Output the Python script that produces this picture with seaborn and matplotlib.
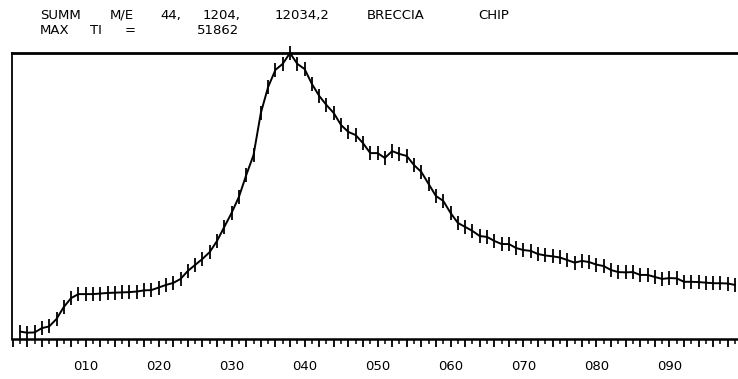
import numpy as np
import pandas as pd
import matplotlib
matplotlib.use("Agg")
import matplotlib.pyplot as plt
from matplotlib.ticker import FixedLocator, FixedFormatter
import seaborn as sns

# scan number (x) and relative total ion intensity, % of MAX TI (y)
scan = list(range(1, 100))
rel_ti = [
    2.6, 2.2, 2.3, 3.8, 4.4, 7.0, 11.2, 14.3, 15.7, 15.7,
    15.7, 15.9, 16.1, 16.2, 16.3, 16.4, 16.6, 17.0, 17.1, 18.0,
    18.9, 19.6, 21.0, 23.8, 25.9, 28.0, 30.4, 34.3, 39.2, 44.1,
    49.7, 57.3, 64.3, 79.0, 88.1, 94.1, 96.2, 100.0, 96.2, 94.4,
    89.2, 85.0, 81.8, 79.0, 74.8, 72.4, 71.3, 68.5, 65.0, 65.0,
    63.3, 65.7, 64.7, 64.0, 60.8, 58.4, 54.2, 50.0, 48.3, 44.1,
    40.6, 39.2, 37.8, 36.0, 35.7, 34.3, 33.2, 33.2, 31.8, 31.1,
    30.8, 29.7, 29.2, 28.9, 28.5, 27.6, 26.7, 27.3, 26.9, 26.0,
    25.5, 24.1, 23.4, 23.3, 23.4, 22.4, 22.4, 21.7, 21.0, 21.3,
    21.2, 20.0, 20.0, 19.9, 19.7, 19.5, 19.5, 19.4, 18.9,
]
tick_labels = ["010", "020", "030", "040", "050", "060", "070", "080", "090"]

title_line1 = [("SUMM", 40), ("M/E", 110), ("44,", 160), ("1204,", 203),
               ("12034,2", 275), ("BRECCIA", 367), ("CHIP", 478)]
title_line2 = [("MAX", 40), ("TI", 90), ("=", 125), ("51862", 197)]

df = pd.DataFrame({"scan": scan, "ti": rel_ti})

sns.set_style("ticks")
plt.rcParams["font.family"] = ["DejaVu Sans"]

W, H = 738, 379
fig = plt.figure(figsize=(W / 100, H / 100), dpi=100)
ax = fig.add_axes([12 / W, 1 - 339 / H, 726 / W, 286 / H])

sns.lineplot(data=df, x="scan", y="ti", ax=ax, color="black", linewidth=1.4,
             marker="|", markersize=10, markeredgewidth=1.3,
             markeredgecolor="black", clip_on=False)

ax.set_xlim(-0.1, 99.4)
ax.set_ylim(0, 100)
ax.set_xlabel("")
ax.set_ylabel("")
ax.set_yticks([])

major = list(range(0, 100, 2))
labels = [tick_labels[v // 10 - 1] if v % 10 == 0 and v > 0 else "" for v in major]
ax.xaxis.set_major_locator(FixedLocator(major))
ax.xaxis.set_major_formatter(FixedFormatter(labels))
ax.xaxis.set_minor_locator(FixedLocator(list(range(1, 100, 2))))
ax.tick_params(axis="x", which="major", direction="out", length=6, width=1.3,
               pad=9, labelsize=9.5, colors="black")
ax.tick_params(axis="x", which="minor", direction="out", length=3.5, width=1.3)

for side in ["left", "top", "bottom"]:
    ax.spines[side].set_visible(True)
    ax.spines[side].set_color("black")
ax.spines["left"].set_linewidth(1.3)
ax.spines["bottom"].set_linewidth(1.8)
ax.spines["top"].set_linewidth(2.0)
ax.spines["right"].set_visible(False)

for word, px in title_line1:
    fig.text(px / W, 1 - 9 / H, word, fontsize=9.5, va="top", ha="left",
             color="black")
for word, px in title_line2:
    fig.text(px / W, 1 - 24 / H, word, fontsize=9.5, va="top", ha="left",
             color="black")

fig.savefig("out.png", dpi=100)
